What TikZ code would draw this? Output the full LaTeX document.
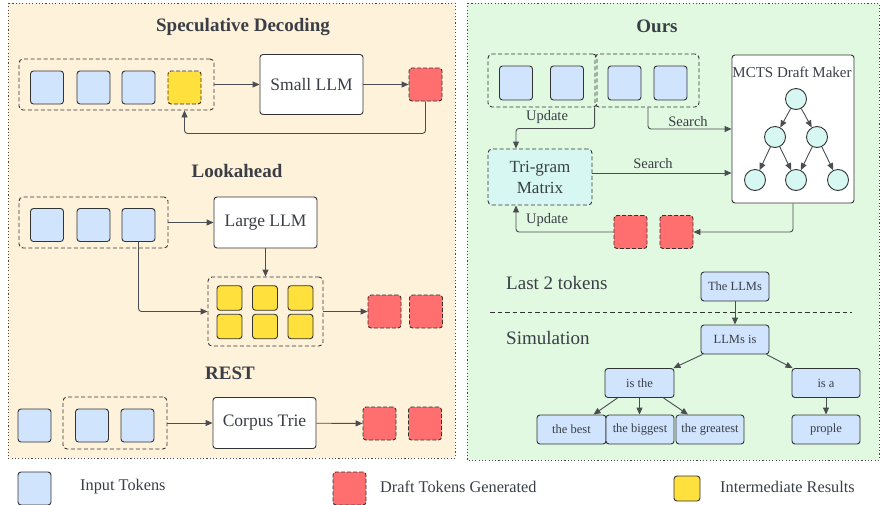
\documentclass[tikz,border=0pt]{standalone}
\usepackage{fontspec}
\setmainfont{Liberation Serif}
\usetikzlibrary{arrows.meta,calc}
\definecolor{ink}{HTML}{3A3E46}
\definecolor{edgec}{HTML}{333333}
\definecolor{arrowc}{HTML}{4A4D52}
\definecolor{tokblue}{HTML}{D0E4FE}
\definecolor{tokred}{HTML}{FF6F6F}
\definecolor{tokyel}{HTML}{FFE03C}
\definecolor{leftbg}{HTML}{FFF2DA}
\definecolor{rightbg}{HTML}{E1F9E0}
\definecolor{cyanbox}{HTML}{D6F7F2}
\tikzset{
  tok/.style={draw=edgec, line width=0.9pt, rounded corners=3pt, inner sep=0pt,
     minimum width=33pt, minimum height=33pt, fill=tokblue},
  drafttok/.style={tok, fill=tokred, dashed, dash pattern=on 4pt off 2pt},
  intertok/.style={tok, fill=tokyel, minimum width=25pt, minimum height=24.5pt},
  grp/.style={draw=edgec, line width=0.9pt, dashed, dash pattern=on 4pt off 2.5pt,
     rounded corners=4pt, inner sep=0pt},
  llmbox/.style={draw=edgec, line width=0.9pt, fill=white, rounded corners=3pt,
     inner sep=0pt, minimum width=103pt, font=\fontsize{17.5}{20}\selectfont, text=ink},
  wordbox/.style={draw=edgec, line width=0.9pt, fill=tokblue, rounded corners=3pt,
     inner sep=0pt, minimum width=68pt, minimum height=29pt,
     font=\fontsize{12.5}{14}\selectfont, text=ink},
  circ/.style={circle, draw=edgec, line width=0.9pt, fill=cyanbox, minimum size=21pt, inner sep=0pt},
  arr/.style={draw=arrowc, line width=0.9pt, rounded corners=3pt,
     -{Triangle[length=7pt,width=6pt]}},
  ttl/.style={font=\bfseries\fontsize{19}{22}\selectfont, text=ink},
  lbl/.style={font=\fontsize{14.5}{17}\selectfont, text=ink, inner sep=0pt},
  biglbl/.style={font=\fontsize{19}{22}\selectfont, text=ink, inner sep=0pt, anchor=west},
  legtxt/.style={font=\fontsize{16.3}{19}\selectfont, text=ink, inner sep=0pt, anchor=west},
  panel/.style={draw=edgec!90, line width=1pt, dash pattern=on 1.1pt off 2.2pt}
}
\begin{document}
\begin{tikzpicture}[x=1pt,y=-1pt]
\useasboundingbox (0,0) rectangle (883,504);
% panels
\fill[leftbg] (8,3) rectangle (455,458);
\draw[panel] (8,3) rectangle (455,458);
\fill[rightbg] (467,3) rectangle (879,460);
\draw[panel] (467,3) rectangle (879,460);

% ---------- Speculative Decoding ----------
\node[ttl] (t1) at (243,27) {Speculative Decoding};
\node[grp, minimum width=195pt, minimum height=51pt] (sg) at (116.5,84.5) {};
\node[tok] (sa) at (47,87.5) {};
\node[tok] (sb) at (93.5,87.5) {};
\node[tok] (sc) at (138.5,87.5) {};
\node[tok, fill=tokyel, dashed, dash pattern=on 4pt off 2pt] (sd) at (184.5,87.5) {};
\node[llmbox, minimum height=60pt] (small) at (311.5,84.5) {Small LLM};
\node[drafttok] (sr) at (425.5,84.5) {};
\draw[arr] (sg) -- (small);
\draw[arr] (small) -- (sr);
\draw[arr] (sr.south) -- ++(0,32) -| (sg.south -| sd);

% ---------- Lookahead ----------
\node[ttl] (t2) at (237,171) {Lookahead};
\node[grp, minimum width=149pt, minimum height=51pt] (lg) at (93.5,222.5) {};
\node[tok] (la) at (47,225) {};
\node[tok] (lb) at (93.5,225) {};
\node[tok] (lc) at (138.5,225) {};
\node[llmbox, minimum height=51pt] (large) at (265.5,222.5) {Large LLM};
\node[grp, minimum width=115pt, minimum height=69pt] (yg) at (265.5,311.5) {};
\node[intertok] (y1) at (229.5,298) {};
\node[intertok] (y2) at (265,298) {};
\node[intertok] (y3) at (300.5,298) {};
\node[intertok] (y4) at (229.5,326.5) {};
\node[intertok] (y5) at (265,326.5) {};
\node[intertok] (y6) at (300.5,326.5) {};
\node[drafttok] (lr1) at (384.5,311.5) {};
\node[drafttok] (lr2) at (426,311.5) {};
\draw[arr] (lg) -- (large);
\draw[arr] (large) -- (yg);
\draw[arr] (lc.south) |- (yg.west);
\draw[arr] (yg) -- (lr1);

% ---------- REST ----------
\node[ttl] (t3) at (230,373) {REST};
\node[tok] (ra) at (34.5,425.5) {};
\node[grp, minimum width=104pt, minimum height=52pt] (rg) at (115,423) {};
\node[tok] (rb) at (92,425.5) {};
\node[tok] (rc) at (137.5,425.5) {};
\node[llmbox, minimum height=51pt] (trie) at (264.5,423) {Corpus Trie};
\node[drafttok] (rr1) at (379.5,423.5) {};
\node[drafttok] (rr2) at (425,423.5) {};
\draw[arr] (rg) -- (trie);
\draw[arr] (trie) -- (rr1);

% ---------- Legend ----------
\node[tok] (lega) at (34.5,488.5) {};
\node[legtxt] (legat) at (80,487) {Input Tokens};
\node[drafttok] (legb) at (349.5,488.5) {};
\node[legtxt] (legbt) at (380,487) {Draft Tokens Generated};
\node[tok, fill=tokyel, minimum width=26pt, minimum height=25pt] (legc) at (687,488.5) {};
\node[legtxt] (legct) at (720,487) {Intermediate Results};

% ---------- Ours ----------
\node[ttl] (t4) at (657,26) {Ours};
\node[grp, minimum width=109pt, minimum height=53pt] (g1) at (542.5,80.5) {};
\node[grp, minimum width=104pt, minimum height=53pt] (g2) at (647,80.5) {};
\node[tok, minimum height=34pt] (oa) at (516,83) {};
\node[tok, minimum height=34pt] (ob) at (567,83) {};
\node[tok, minimum height=34pt] (oc) at (624.5,83) {};
\node[tok, minimum height=34pt] (od) at (670.5,83) {};
\node[draw=edgec, line width=0.9pt, fill=white, rounded corners=3pt,
      minimum width=122pt, minimum height=148pt, inner sep=0pt] (mcts) at (793,129) {};
\node[font=\fontsize{15}{18}\selectfont, text=ink, inner sep=0pt] (mctsl) at (792,72) {MCTS Draft Maker};
\node[circ] (c0) at (796,99) {};
\node[circ] (c1) at (775,137) {};
\node[circ] (c2) at (817,137) {};
\node[circ] (c3) at (755,180) {};
\node[circ] (c4) at (796,180) {};
\node[circ] (c5) at (838,180) {};
\draw[arr] (c0) -- (c1);
\draw[arr] (c0) -- (c2);
\draw[arr] (c1) -- (c3);
\draw[arr] (c1) -- (c4);
\draw[arr] (c2) -- (c4);
\draw[arr] (c2) -- (c5);
\node[draw=edgec, line width=0.9pt, dashed, dash pattern=on 4pt off 2.5pt, fill=cyanbox,
      rounded corners=4pt, minimum width=104pt, minimum height=56pt, inner sep=0pt,
      align=center, font=\fontsize{17}{21}\selectfont, text=ink] (tri) at (540,177) {Tri-gram\\Matrix};
\node[drafttok] (or1) at (630.5,232) {};
\node[drafttok] (or2) at (676.5,232) {};
\draw[arr] (g2.south west) -- ++(0,21) -| (tri.north -| oa);
\draw[arr] ([xshift=1pt]g2.south) |- (mcts.west);
\draw[arr] ([yshift=4pt]tri.east) -- ([yshift=4pt]tri.east -| mcts.west);
\draw[arr] (mcts.south) |- (or2.east);
\draw[arr] (or1.west) -| (tri.south -| oa);
\node[lbl] (u1) at (547,117) {Update};
\node[lbl] (u2) at (547,220) {Update};
\node[lbl] (s1) at (688,122) {Search};
\node[lbl] (s2) at (653,164) {Search};

% ---------- Simulation tree ----------
\node[biglbl] (last) at (506,283) {Last 2 tokens};
\node[biglbl] (sim) at (506,338) {Simulation};
\coordinate (dl) at (490,312);
\coordinate (dr) at (852,312);
\draw[edgec, line width=0.9pt, dashed, dash pattern=on 4.5pt off 3pt] (dl) -- (dr);
\node[wordbox] (tl) at (735,286.5) {The LLMs};
\node[wordbox] (li) at (735,339.5) {LLMs is};
\node[wordbox, minimum width=69pt] (it) at (639.5,383) {is the};
\node[wordbox] (ia) at (826,383) {is a};
\node[wordbox, minimum width=69pt] (b1) at (571.5,429.5) {the best};
\node[wordbox] (b2) at (640,429.5) {the biggest};
\node[wordbox] (b3) at (710,429.5) {the greatest};
\node[wordbox] (pr) at (826,429.5) {prople};
\draw[arr] (tl) -- (li);
\draw[arr] ([xshift=2pt]li.south west) -- ([xshift=-1pt]it.north east);
\draw[arr] ([xshift=-3pt]li.south east) -- ([xshift=1pt]ia.north west);
\draw[arr] ([xshift=-22pt]it.south) -- ([xshift=22pt]b1.north);
\draw[arr] (it.south) -- (it.south |- b2.north);
\draw[arr] ([xshift=24pt]it.south) -- ([xshift=-22pt]b3.north);
\draw[arr] (ia) -- (pr);
\end{tikzpicture}
\end{document}
